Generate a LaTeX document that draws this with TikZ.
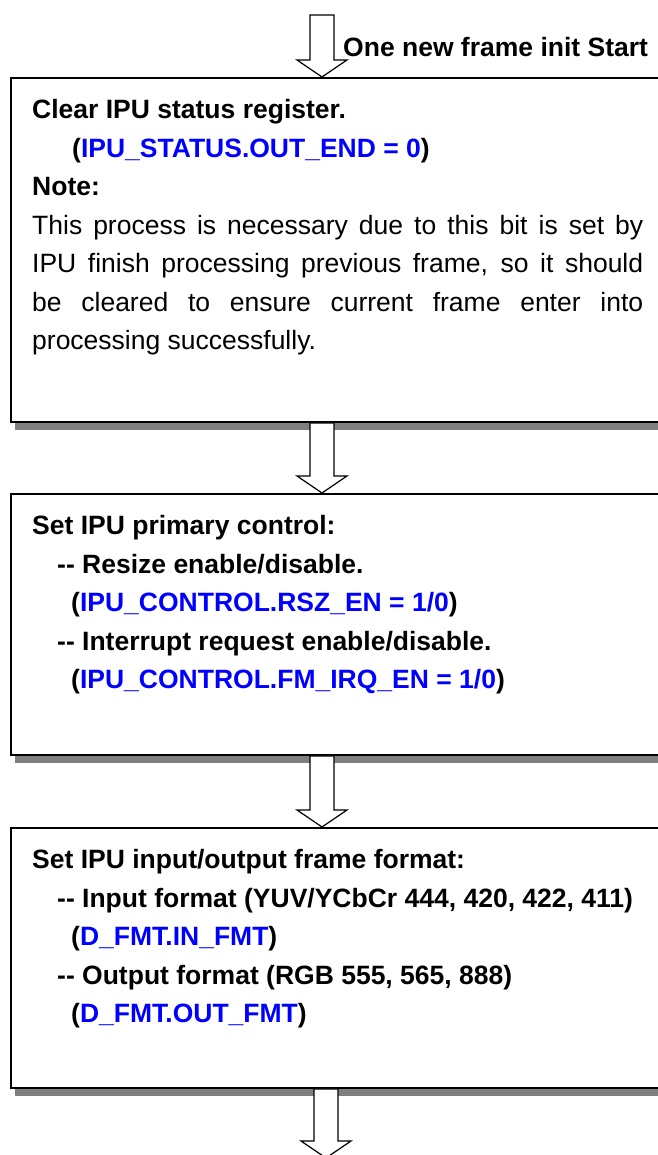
\documentclass[tikz,border=0pt]{standalone}
\usepackage{fontspec}
\setmainfont{Liberation Sans}
\usetikzlibrary{calc,backgrounds}
\definecolor{ipublue}{RGB}{0,0,255}
\definecolor{shadowgray}{RGB}{128,128,128}
\tikzset{
  flowbox/.style={draw=black, line width=2pt, fill=white, rectangle, inner sep=0pt,
    anchor=north west, minimum width=760pt},
  boxshadow/.style={fill=shadowgray},
  txt/.style={anchor=base west, inner sep=0pt, font=\fontsize{26.5}{38.5}\selectfont},
  btxt/.style={txt, font=\fontsize{26.5}{38.5}\selectfont\bfseries},
  blockarrow/.style={draw=black, line width=1.2pt, fill=white, line join=miter}
}
\newcommand{\blockarr}[2]{%
  \path let \p1=(#1), \p2=(#2) in
    [blockarrow] (\x1-12pt,\y1) -- (\x1-12pt,\y2+17pt) -- (\x1-25pt,\y2+17pt)
    -- (\x1,\y2) -- (\x1+25pt,\y2+17pt) -- (\x1+12pt,\y2+17pt) -- (\x1+12pt,\y1) -- cycle;}
\newcommand{\boxshadow}[1]{%
  \fill[boxshadow] ($(#1.north west)+(5,-7)$) rectangle ($(#1.south east)+(5,-7)$);}
\newcommand{\blu}[1]{\textcolor{ipublue}{#1}}
\newcommand{\dd}{-\kern0pt-}
\begin{document}
\begin{tikzpicture}[x=1pt,y=1pt]
\useasboundingbox (0,0) rectangle (657,1155);

% boxes
\node[flowbox, minimum height=344pt] (b1) at (10,1078) {};
\node[flowbox, minimum height=261pt] (b2) at (10,662) {};
\node[flowbox, minimum height=260pt] (b3) at (10,328) {};
\begin{scope}[on background layer]
  \boxshadow{b1}
  \boxshadow{b2}
  \boxshadow{b3}
\end{scope}

% arrow coordinates
\coordinate (s0) at (322,1140);
\coordinate (ax) at (322,0);
\coordinate (ax4) at (326,0);
\coordinate (e4) at (326,-3);

\blockarr{s0}{b1.north -| ax}
\blockarr{b1.south -| ax}{b2.north -| ax}
\blockarr{b2.south -| ax}{b3.north -| ax}
\blockarr{b3.south -| ax4}{e4}

% title
\node[btxt] (title) at (343,1098) {One new frame init Start};

% box 1 text
\node[btxt] (t11) at (32,1036) {Clear IPU status register.};
\node[btxt] (t12) at (72,997.5) {(\blu{IPU\_STATUS.OUT\_END = 0})};
\node[btxt] (t13) at (32,959) {Note:};
\node[txt] (t14) at (32,920.5) {\makebox[611pt][s]{This process is necessary due to this bit is set by}};
\node[txt] (t15) at (32,882) {\makebox[611pt][s]{IPU finish processing previous frame, so it should}};
\node[txt] (t16) at (32,843.5) {\makebox[611pt][s]{be cleared to ensure current frame enter into}};
\node[txt] (t17) at (32,805) {processing successfully.};

% box 2 text
\node[btxt] (t21) at (32,620) {Set IPU primary control:};
\node[btxt] (t22) at (57,581.5) {\dd{} Resize enable/disable.};
\node[btxt] (t23) at (71,543) {(\blu{IPU\_CONTROL.RSZ\_EN = 1/0})};
\node[btxt] (t24) at (57,504.5) {\dd{} Interrupt request enable/disable.};
\node[btxt] (t25) at (71,466) {(\blu{IPU\_CONTROL.FM\_IRQ\_EN = 1/0})};

% box 3 text
\node[btxt] (t31) at (32,286) {Set IPU input/output frame format:};
\node[btxt] (t32) at (57,247.5) {\dd{} Input format (YUV/YCbCr 444, 420, 422, 411)};
\node[btxt] (t33) at (71,209) {(\blu{D\_FMT.IN\_FMT})};
\node[btxt] (t34) at (57,170.5) {\dd{} Output format (RGB 555, 565, 888)};
\node[btxt] (t35) at (71,132) {(\blu{D\_FMT.OUT\_FMT})};
\end{tikzpicture}
\end{document}
